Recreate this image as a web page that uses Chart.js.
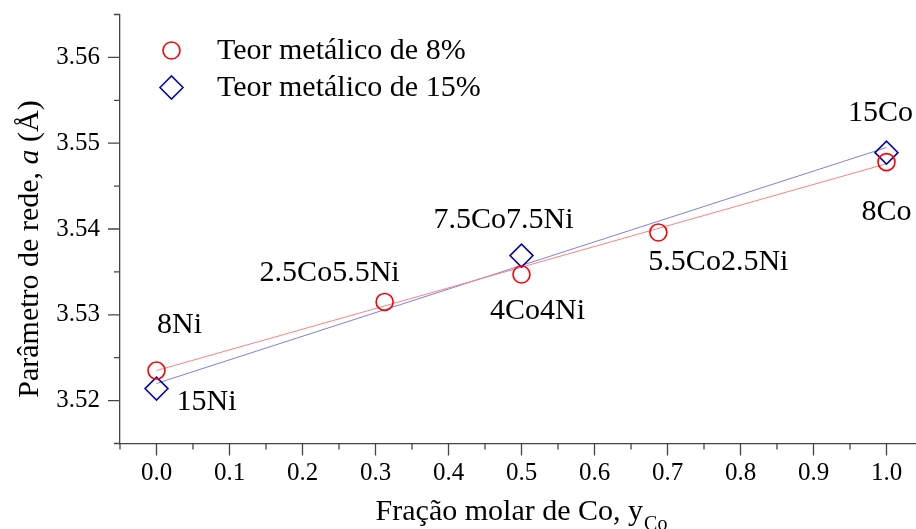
<!DOCTYPE html>
<html>
<head>
<meta charset="utf-8">
<script src="https://cdn.jsdelivr.net/npm/chart.js@4/dist/chart.umd.min.js"></script>
<style>
  html, body { margin: 0; padding: 0; background: #fff; overflow: hidden; }
  #wrap { width: 923px; height: 529px; }
</style>
</head>
<body>
<div id="wrap"><canvas id="c" width="923" height="529"></canvas></div>
<script>
// Lattice parameter a (Å) against Co molar fraction, 8 % metal loading
const fracCo8 = [0, 0.3125, 0.5, 0.6875, 1.0];
const lattice8 = [3.5235, 3.5315, 3.5347, 3.5396, 3.5478];
const names8 = ['8Ni', '2.5Co5.5Ni', '4Co4Ni', '5.5Co2.5Ni', '8Co'];

// 15 % metal loading
const fracCo15 = [0, 0.5, 1.0];
const lattice15 = [3.5214, 3.5369, 3.5489];
const names15 = ['15Ni', '7.5Co7.5Ni', '15Co'];

// Linear fits, evaluated at y_Co = 0 and y_Co = 1
const fitX = [0, 1];
const fit8 = [3.5235, 3.5476];
const fit15 = [3.5220, 3.5495];

// Axis ticks
const xTicks = [0, 0.1, 0.2, 0.3, 0.4, 0.5, 0.6, 0.7, 0.8, 0.9, 1.0];
const yTicks = [3.52, 3.53, 3.54, 3.55, 3.56];
const seriesNames = ['Teor metálico de 8%', 'Teor metálico de 15%'];

const FONT = '"Liberation Serif", "Times New Roman", Times, serif';
const AXIS = '#444';

const pts = (xs, ys) => xs.map((x, i) => ({ x: x, y: ys[i] }));

// Draws an open circle or diamond marker like the dataset points
function marker(ctx, style, x, y, r, color, lw) {
  ctx.save();
  ctx.strokeStyle = color;
  ctx.lineWidth = lw;
  ctx.beginPath();
  if (style === 'circle') {
    ctx.arc(x, y, r, 0, Math.PI * 2);
  } else {
    ctx.moveTo(x - r, y);
    ctx.lineTo(x, y - r);
    ctx.lineTo(x + r, y);
    ctx.lineTo(x, y + r);
    ctx.closePath();
  }
  ctx.stroke();
  ctx.restore();
}

// Sample names next to the points, legend, minor/major ticks and axis titles
const decorations = {
  id: 'decorations',
  afterDatasetsDraw(chart, args, opts) {
    const ctx = chart.ctx;
    ctx.save();
    ctx.fillStyle = '#000';
    ctx.font = '30px ' + FONT;
    ctx.textAlign = 'center';
    ctx.textBaseline = 'alphabetic';
    opts.pointLabels.forEach(g => {
      const meta = chart.getDatasetMeta(g.dataset);
      meta.data.forEach((el, i) => {
        const off = g.offsets[i];
        ctx.fillText(g.names[i], el.x + off[0], el.y + off[1]);
      });
    });

    // legend
    ctx.textAlign = 'left';
    ctx.textBaseline = 'middle';
    opts.legend.rows.forEach((rowY, i) => {
      const ds = chart.data.datasets[opts.legend.datasets[i]];
      marker(ctx, ds.pointStyle, opts.legend.x, rowY, ds.pointRadius, ds.borderColor, ds.pointBorderWidth);
      ctx.fillText(ds.label, opts.legend.textX, rowY + 1);
    });
    ctx.restore();
  },
  afterDraw(chart) {
    const ctx = chart.ctx;
    const xs = chart.scales.x, ys = chart.scales.y;
    const area = chart.chartArea;
    ctx.save();
    ctx.strokeStyle = AXIS;
    ctx.lineWidth = 1.3;
    const major = 12, minor = 6;
    // x ticks (outward, below the axis)
    const xMinor = xTicks.map(v => v - 0.05).concat([xTicks[xTicks.length - 1] + 0.05]);
    ctx.beginPath();
    xTicks.forEach(v => { const p = xs.getPixelForValue(v); ctx.moveTo(p, area.bottom); ctx.lineTo(p, area.bottom + major); });
    xMinor.forEach(v => { const p = xs.getPixelForValue(v); ctx.moveTo(p, area.bottom); ctx.lineTo(p, area.bottom + minor); });
    // y ticks (outward, left of the axis)
    const yMinor = yTicks.map(v => v - 0.005).concat([yTicks[yTicks.length - 1] + 0.005]);
    yTicks.forEach(v => { const p = ys.getPixelForValue(v); ctx.moveTo(area.left, p); ctx.lineTo(area.left - major, p); });
    yMinor.forEach(v => { const p = ys.getPixelForValue(v); ctx.moveTo(area.left, p); ctx.lineTo(area.left - minor, p); });
    ctx.stroke();

    ctx.fillStyle = '#000';
    ctx.textBaseline = 'alphabetic';
    ctx.textAlign = 'left';

    // x-axis title with subscript
    const main = 'Fração molar de Co, y', sub = 'Co';
    ctx.font = '30px ' + FONT;
    const wMain = ctx.measureText(main).width;
    ctx.font = '20px ' + FONT;
    const wSub = ctx.measureText(sub).width;
    const cx = (area.left + area.right) / 2;
    let x0 = cx - (wMain + wSub + 1) / 2;
    ctx.font = '30px ' + FONT;
    ctx.fillText(main, x0, 520);
    ctx.font = '20px ' + FONT;
    ctx.fillText(sub, x0 + wMain + 1, 530);

    // y-axis title with italic symbol
    const parts = [['Parâmetro de rede, ', ''], ['a', 'italic '], [' (Å)', '']];
    ctx.translate(38, 249);
    ctx.rotate(-Math.PI / 2);
    let total = 0;
    const widths = parts.map(p => { ctx.font = p[1] + '30px ' + FONT; const w = ctx.measureText(p[0]).width; total += w; return w; });
    let px = -total / 2;
    parts.forEach((p, i) => { ctx.font = p[1] + '30px ' + FONT; ctx.fillText(p[0], px, 0); px += widths[i]; });
    ctx.restore();
  }
};

new Chart(document.getElementById('c'), {
  type: 'scatter',
  data: {
    datasets: [
      {
        label: 'fit 8%', type: 'line', data: pts(fitX, fit8),
        borderColor: '#ff8080', borderWidth: 1, pointRadius: 0, fill: false, order: 3
      },
      {
        label: 'fit 15%', type: 'line', data: pts(fitX, fit15),
        borderColor: '#7f7fe0', borderWidth: 1, pointRadius: 0, fill: false, order: 3
      },
      {
        label: seriesNames[0], data: pts(fracCo8, lattice8),
        pointStyle: 'circle', pointRadius: 8.5, pointBorderWidth: 1.6,
        borderColor: '#ff0000', pointBackgroundColor: 'rgba(0,0,0,0)', backgroundColor: 'rgba(0,0,0,0)', order: 1
      },
      {
        label: seriesNames[1], data: pts(fracCo15, lattice15),
        pointStyle: 'rectRot', pointRadius: 11.5, pointBorderWidth: 1.6,
        borderColor: '#0a0a9e', pointBackgroundColor: 'rgba(0,0,0,0)', backgroundColor: 'rgba(0,0,0,0)', order: 1
      }
    ]
  },
  options: {
    responsive: false,
    animation: false,
    devicePixelRatio: 1,
    layout: { autoPadding: false, padding: { top: 14.5, left: 0, right: 0, bottom: 0 } },
    plugins: {
      legend: { display: false },
      tooltip: { enabled: false },
      decorations: {
        pointLabels: [
          { dataset: 2, names: names8, offsets: [[23, -38], [-55, -21], [16, 45], [60, 38], [0, 58]] },
          { dataset: 3, names: names15, offsets: [[50, 21], [-18, -28], [-6, -32]] }
        ],
        legend: { datasets: [2, 3], x: 171.5, textX: 217, rows: [50.5, 87.5] }
      }
    },
    scales: {
      x: {
        type: 'linear', min: -0.05, max: 1.05,
        afterBuildTicks: s => { s.ticks = xTicks.map(v => ({ value: v })); },
        afterFit: s => { s.height = 85.5; s.paddingLeft = 0; s.paddingRight = 0; },
        ticks: { callback: v => v.toFixed(1), font: { family: FONT, size: 25 }, color: '#000', padding: 15, maxRotation: 0, autoSkip: false },
        grid: { display: true, drawOnChartArea: false, drawTicks: false },
        border: { display: true, color: AXIS, width: 1.3 }
      },
      y: {
        type: 'linear', min: 3.515, max: 3.565,
        afterBuildTicks: s => { s.ticks = yTicks.map(v => ({ value: v })); },
        afterFit: s => { s.width = 120; s.paddingTop = 0; s.paddingBottom = 0; },
        ticks: { callback: v => v.toFixed(2), font: { family: FONT, size: 25 }, color: '#000', padding: 20, autoSkip: false },
        grid: { display: true, drawOnChartArea: false, drawTicks: false },
        border: { display: true, color: AXIS, width: 1.3 }
      }
    }
  },
  plugins: [decorations]
});
</script>
</body>
</html>
